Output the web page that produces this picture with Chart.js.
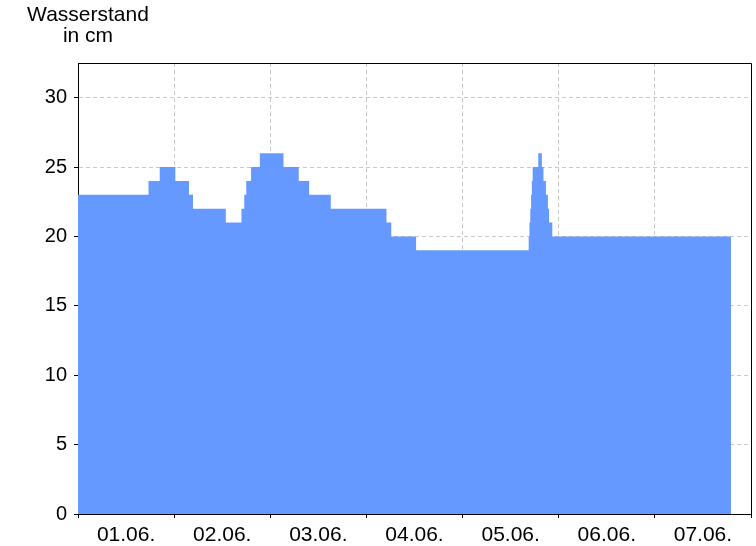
<!DOCTYPE html>
<html>
<head>
<meta charset="utf-8">
<script src="https://cdn.jsdelivr.net/npm/chart.js@4"></script>
<style>
    html, body { margin: 0; padding: 0; background: #fff; }
    #wrap { width: 756px; height: 546px; }
</style>
</head>
<body>
<div id="wrap"><canvas id="pegel" width="756" height="546"></canvas></div>
<script>
// Zeitpunkte (Stunden ab 01.06. 00:00), ab denen der jeweilige Wasserstand gilt
const stunden = [0, 17.6, 20.4, 24.3, 27.7, 28.7, 36.9, 40.8, 41.5, 42.0, 43.2, 45.4,
    51.3, 55.1, 57.7, 63.1, 77.0, 78.2, 84.4,
    112.5, 112.7, 112.9, 113.1, 113.3, 113.5, 114.9, 115.8, 116.2, 116.8, 117.3, 117.6, 118.4,
    163.0];
const wasserstand = [23, 24, 25, 24, 23, 22, 21, 22, 23, 24, 25, 26,
    25, 24, 23, 22, 21, 20, 19,
    20, 21, 22, 23, 24, 25, 26, 25, 24, 23, 22, 21, 20,
    20];

const tage = ["01.06.", "02.06.", "03.06.", "04.06.", "05.06.", "06.06.", "07.06."];
const yTicks = [0, 5, 10, 15, 20, 25, 30];

const punkte = stunden.map((h, i) => ({ x: h, y: wasserstand[i] }));

const FONT = "'Liberation Sans', Arial, sans-serif";

// Rahmen oben/rechts und Achsentitel
const rahmenPlugin = {
    id: "rahmen",
    afterDraw(chart) {
        const { ctx, chartArea } = chart;
        ctx.save();
        ctx.strokeStyle = "#000";
        ctx.lineWidth = 1;
        ctx.beginPath();
        ctx.moveTo(Math.round(chartArea.left) + 0.5, Math.round(chartArea.top) + 0.5);
        ctx.lineTo(Math.round(chartArea.right) + 0.5, Math.round(chartArea.top) + 0.5);
        ctx.lineTo(Math.round(chartArea.right) + 0.5, Math.round(chartArea.bottom) + 0.5);
        ctx.stroke();

        ctx.fillStyle = "#000";
        ctx.font = "21px " + FONT;
        ctx.textAlign = "center";
        ctx.textBaseline = "alphabetic";
        ctx.fillText("Wasserstand", 88, 21);
        ctx.fillText("in cm", 88, 42);
        ctx.restore();
    }
};

const ctx = document.getElementById("pegel").getContext("2d");
new Chart(ctx, {
    type: "line",
    data: {
        datasets: [{
            data: punkte,
            stepped: "before",
            fill: "origin",
            backgroundColor: "#6699ff",
            borderWidth: 0,
            borderColor: "rgba(0,0,0,0)",
            pointRadius: 0,
        }],
    },
    options: {
        responsive: false,
        animation: false,
        layout: { padding: { top: 63, right: 5, left: 0, bottom: 0 } },
        plugins: { legend: { display: false }, tooltip: { enabled: false }, title: { display: false } },
        scales: {
            x: {
                type: "linear",
                min: 0,
                max: 168,
                z: 1,
                afterBuildTicks: (scale) => {
                    const t = [];
                    for (let h = 0; h <= 168; h += 12) t.push({ value: h });
                    scale.ticks = t;
                },
                afterFit: (scale) => { scale.height = 32; },
                ticks: {
                    autoSkip: false,
                    maxRotation: 0,
                    padding: 5,
                    color: "#000",
                    font: { family: FONT, size: 21 },
                    callback: (v) => (v % 24 === 12 ? tage[(v - 12) / 24] : ""),
                },
                grid: {
                    color: (c) => (c.tick && c.tick.value % 24 === 0 && c.tick.value > 0 && c.tick.value < 168 ? "#c8c8c8" : "rgba(0,0,0,0)"),
                    tickColor: (c) => (c.tick && c.tick.value % 24 === 0 ? "#000" : "rgba(0,0,0,0)"),
                    tickLength: 4,
                    lineWidth: 1,
                },
                border: { display: true, color: "#000", width: 1, dash: [4, 3] },
            },
            y: {
                min: 0,
                max: 32.5,
                z: 1,
                afterBuildTicks: (scale) => {
                    scale.ticks = yTicks.map((v) => ({ value: v }));
                },
                afterFit: (scale) => { scale.width = 78; },
                ticks: {
                    padding: 7,
                    color: "#000",
                    font: { family: FONT, size: 20 },
                },
                grid: {
                    color: (c) => (c.tick && c.tick.value > 0 ? "#c8c8c8" : "rgba(0,0,0,0)"),
                    tickColor: "#000",
                    tickLength: 4,
                    lineWidth: 1,
                },
                border: { display: true, color: "#000", width: 1, dash: [4, 3] },
            },
        },
    },
    plugins: [rahmenPlugin],
});
</script>
</body>
</html>
